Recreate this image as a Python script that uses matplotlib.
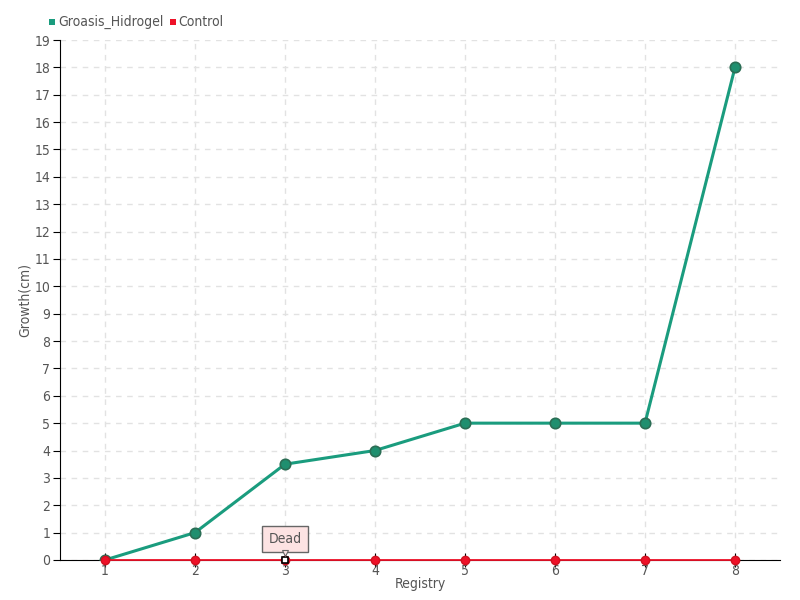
import matplotlib
matplotlib.use("Agg")
import matplotlib.pyplot as plt
from matplotlib.patches import Rectangle
from matplotlib.transforms import offset_copy

categories = ["1", "2", "3", "4", "5", "6", "7", "8"]
groasis = [0, 1, 3.5, 4, 5, 5, 5, 18]
control = [0, 0, 0, 0, 0, 0, 0, 0]
series_names = ["Groasis_Hidrogel", "Control"]
yticks = list(range(0, 20))
annotation_text = "Dead"
annotation_index = 2

plt.rcParams['font.family'] = ['DejaVu Sans']
plt.rcParams['font.stretch'] = 'condensed'
txt = '#555555'

fig = plt.figure(figsize=(8, 6), dpi=100)
ax = fig.add_axes([0.075, 0.0667, 0.9, 0.8666])
xs = list(range(1, len(categories) + 1))

ax.set_xlim(0.5, len(categories) + 0.5)
ax.set_ylim(0, 19)
ax.set_yticks(yticks)
ax.set_xticks(xs)
ax.set_xticklabels(categories)
ax.grid(True, color='#e2e2e2', linestyle=(0, (4, 4)), linewidth=1)
ax.set_axisbelow(True)
for s in ['top', 'right']:
    ax.spines[s].set_visible(False)
ax.spines['left'].set_color('black')
ax.spines['bottom'].set_color('black')
ax.tick_params(axis='both', colors='black', labelcolor=txt, labelsize=10, length=5)
ax.tick_params(axis='y', pad=2)
ax.tick_params(axis='x', pad=-2, direction='inout', length=10)

teal = '#1a9c7e'
red = '#ee1128'
ax.plot(xs, groasis, color=teal, lw=2.2, marker='o', ms=7.5,
        markerfacecolor='#1f8f6f', markeredgecolor='#2b6e55', markeredgewidth=1.2, zorder=3)
ax.plot(xs, control, color=red, lw=1.3, marker='o', ms=6,
        markerfacecolor=red, markeredgecolor='#d0101f', zorder=4, clip_on=False)
# highlighted point
ax.plot(xs[annotation_index], control[annotation_index], marker='s', ms=4,
        markerfacecolor='white', markeredgecolor='black', markeredgewidth=1.2, zorder=6, clip_on=False)

ax.annotate(annotation_text, xy=(xs[annotation_index], control[annotation_index]),
            xytext=(0, 15), textcoords='offset points', ha='center', va='center',
            fontsize=10, color=txt, zorder=7,
            bbox=dict(boxstyle='square,pad=0.45', facecolor='#fde3e3', edgecolor='#666666', lw=1))
tr = offset_copy(ax.transData, fig=fig, x=0, y=7, units='dots')
ax.plot(xs[annotation_index], control[annotation_index], marker='v', ms=5,
        markerfacecolor='#fde3e3', markeredgecolor='#666666', markeredgewidth=0.8,
        zorder=8, clip_on=False, transform=tr)

ax.set_ylabel('Growth(cm)', color=txt, fontsize=10, labelpad=2)
ax.set_xlabel('Registry', color=txt, fontsize=10, labelpad=-1)

# legend
fig.patches.append(Rectangle((49/800, 1-25/600), 6/800, 6/600, transform=fig.transFigure,
                             facecolor=teal, edgecolor='none'))
fig.text(58/800, 1-22/600, series_names[0], color=txt, fontsize=10, va='center')
fig.patches.append(Rectangle((170/800, 1-25/600), 6/800, 6/600, transform=fig.transFigure,
                             facecolor=red, edgecolor='none'))
fig.text(178/800, 1-22/600, series_names[1], color=txt, fontsize=10, va='center')

fig.savefig('out.png', dpi=100)
